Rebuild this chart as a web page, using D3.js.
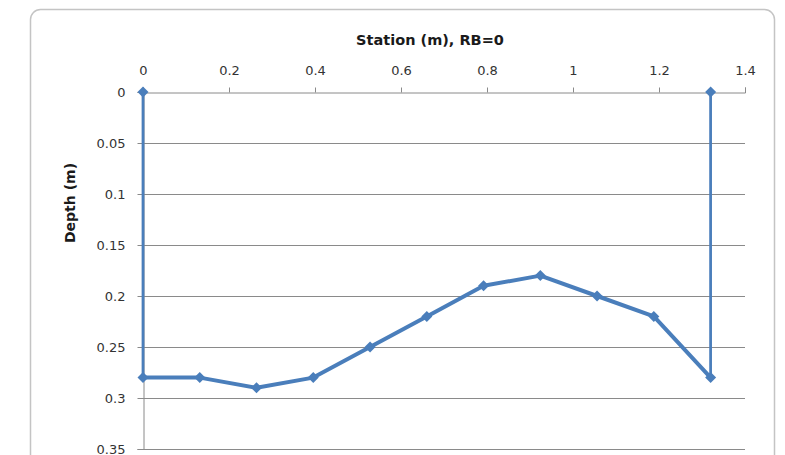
<!DOCTYPE html>
<html>
<head>
<meta charset="utf-8">
<script src="https://cdn.jsdelivr.net/npm/d3@7"></script>
<style>
  html, body { margin: 0; padding: 0; background: #fff; }
  svg { display: block; font-family: "DejaVu Sans", Verdana, sans-serif; }
</style>
</head>
<body>
<svg id="chart" width="785" height="455"></svg>
<script>
// Cross-section survey: station across the channel and bed depth
const stations = [0, 0.132, 0.264, 0.396, 0.528, 0.66, 0.792, 0.924, 1.056, 1.188, 1.32];
const depths   = [0.28, 0.28, 0.29, 0.28, 0.25, 0.22, 0.19, 0.18, 0.20, 0.22, 0.28];
// Bank lines from water surface down to the bed at each edge
const leftBank  = [[0, 0], [0, 0.28]];
const rightBank = [[1.32, 0], [1.32, 0.28]];
const xTicks = [0, 0.2, 0.4, 0.6, 0.8, 1, 1.2, 1.4];
const yTicks = [0, 0.05, 0.1, 0.15, 0.2, 0.25, 0.3, 0.35];

const svg = d3.select("#chart");
const blue = "#4a7ebb";
const grid = "#8a8a8a";

// Chart frame
svg.append("rect")
  .attr("x", 30.5).attr("y", 9.5)
  .attr("width", 744).attr("height", 480)
  .attr("rx", 10)
  .attr("fill", "#fff")
  .attr("stroke", "#c4c4c4")
  .attr("stroke-width", 1.5);

const x = d3.scaleLinear().domain([0, 1.4]).range([143, 745]);
const y = d3.scaleLinear().domain([0, 0.35]).range([92, 449]);

// Horizontal gridlines
svg.append("g").selectAll("line")
  .data(yTicks.slice(1))
  .join("line")
  .attr("x1", x(0)).attr("x2", x(1.4))
  .attr("y1", d => Math.round(y(d)) + 0.5).attr("y2", d => Math.round(y(d)) + 0.5)
  .attr("stroke", grid).attr("stroke-width", 1);

// Top x axis
const xAxis = svg.append("g")
  .attr("transform", `translate(0,${Math.round(y(0)) + 0.5})`)
  .call(d3.axisTop(x).tickValues(xTicks).tickFormat(d3.format("~g")).tickSize(5).tickPadding(13));
xAxis.select(".domain").attr("stroke", grid);
xAxis.selectAll(".tick line").attr("stroke", grid);
xAxis.selectAll(".tick text").attr("fill", "#333").attr("font-size", 13).attr("font-family", "DejaVu Sans");

// Left y axis
const yAxis = svg.append("g")
  .attr("transform", `translate(${Math.round(x(0)) + 0.5},0)`)
  .call(d3.axisLeft(y).tickValues(yTicks).tickFormat(d3.format("~g")).tickSize(6).tickPadding(12));
yAxis.select(".domain").attr("stroke", grid);
yAxis.selectAll(".tick line").attr("stroke", grid);
yAxis.selectAll(".tick text").attr("fill", "#333").attr("font-size", 13).attr("font-family", "DejaVu Sans");

// Axis titles
svg.append("text")
  .attr("x", 430).attr("y", 45)
  .attr("text-anchor", "middle")
  .attr("font-size", 14.5).attr("font-weight", "bold").attr("fill", "#1a1a1a")
  .text("Station (m), RB=0");

svg.append("text")
  .attr("transform", "translate(75,203) rotate(-90)")
  .attr("text-anchor", "middle")
  .attr("font-size", 14).attr("font-weight", "bold").attr("fill", "#1a1a1a")
  .text("Depth (m)");

// Bank lines
const line = d3.line().x(d => x(d[0])).y(d => y(d[1]));
[leftBank, rightBank].forEach(b => {
  svg.append("path")
    .attr("d", line(b))
    .attr("fill", "none").attr("stroke", blue).attr("stroke-width", 2.75);
});

// Bed profile
const bed = stations.map((s, i) => [s, depths[i]]);
svg.append("path")
  .attr("d", line(bed))
  .attr("fill", "none").attr("stroke", blue)
  .attr("stroke-width", 4).attr("stroke-linejoin", "round");

// Diamond markers (square turned 45°)
const r = 5.5;
const markers = bed.concat([leftBank[0], rightBank[0]]);
svg.append("g").selectAll("path")
  .data(markers)
  .join("path")
  .attr("transform", d => `translate(${x(d[0])},${y(d[1])})`)
  .attr("d", `M0,${-r}L${r},0L0,${r}L${-r},0Z`)
  .attr("fill", blue);
</script>
</body>
</html>
